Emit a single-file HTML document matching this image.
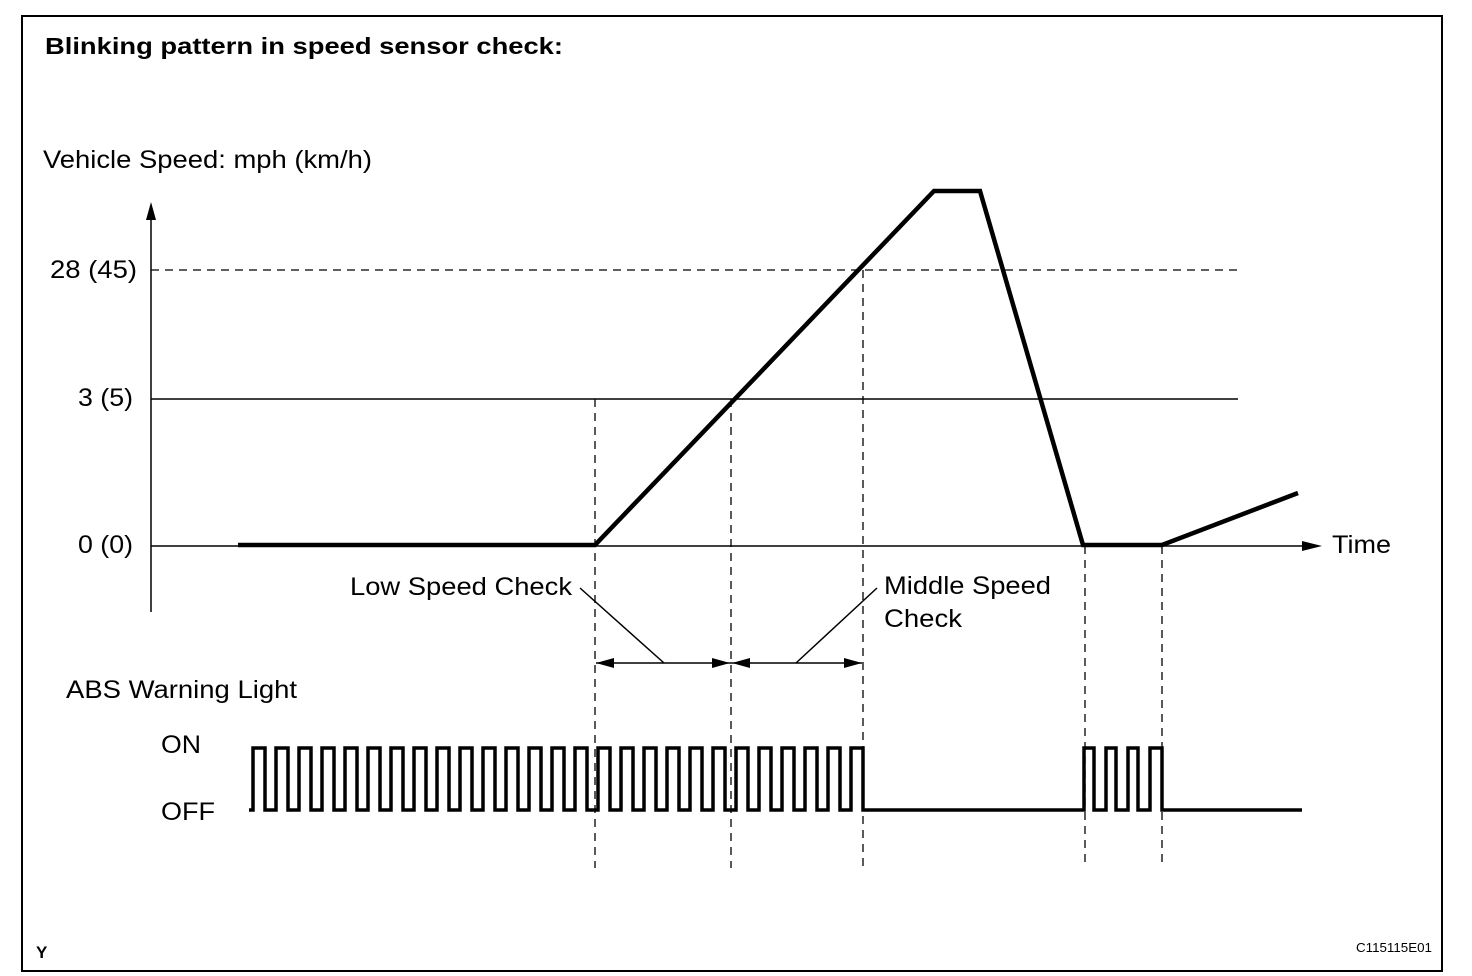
<!DOCTYPE html>
<html><head><meta charset="utf-8"><style>
html,body{margin:0;padding:0;background:#fff}
svg{display:block}
text{font-family:"Liberation Sans",Arial,sans-serif;fill:#000}
</style></head><body>
<svg id="s" width="1472" height="976" viewBox="0 0 1472 976" xmlns="http://www.w3.org/2000/svg">
<rect x="22" y="16" width="1420" height="955" fill="none" stroke="#000" stroke-width="2"/>
<text x="45" y="54" font-size="23" font-weight="bold" textLength="518" lengthAdjust="spacingAndGlyphs">Blinking pattern in speed sensor check:</text>
<text x="43" y="168" font-size="25" textLength="329" lengthAdjust="spacingAndGlyphs">Vehicle Speed: mph (km/h)</text>
<text x="50" y="278" font-size="25" textLength="87" lengthAdjust="spacingAndGlyphs">28 (45)</text>
<text x="78" y="406" font-size="25" textLength="55" lengthAdjust="spacingAndGlyphs">3 (5)</text>
<text x="78" y="553" font-size="25" textLength="55" lengthAdjust="spacingAndGlyphs">0 (0)</text>
<text x="1332" y="553" font-size="25" textLength="59" lengthAdjust="spacingAndGlyphs">Time</text>
<text x="350" y="595" font-size="25" textLength="222" lengthAdjust="spacingAndGlyphs">Low Speed Check</text>
<text x="884" y="594" font-size="25" textLength="167" lengthAdjust="spacingAndGlyphs">Middle Speed</text>
<text x="884" y="627" font-size="25" textLength="78" lengthAdjust="spacingAndGlyphs">Check</text>
<text x="66" y="698" font-size="25" textLength="231" lengthAdjust="spacingAndGlyphs">ABS Warning Light</text>
<text x="161" y="753" font-size="25" textLength="40" lengthAdjust="spacingAndGlyphs">ON</text>
<text x="161" y="820" font-size="25" textLength="54" lengthAdjust="spacingAndGlyphs">OFF</text>
<text x="36" y="958" font-size="17" font-weight="bold">Y</text>
<text x="1356" y="952" font-size="13" textLength="76" lengthAdjust="spacingAndGlyphs">C115115E01</text>
<line x1="151" y1="208" x2="151" y2="612" stroke="#000" stroke-width="1.5"/>
<polygon points="151,202 146,220 156,220" fill="#000"/>
<line x1="151" y1="546" x2="1305" y2="546" stroke="#000" stroke-width="1.5"/>
<polygon points="1322,546 1302,541 1302,551" fill="#000"/>
<line x1="151" y1="399" x2="1238" y2="399" stroke="#000" stroke-width="1.5"/>
<line x1="151" y1="270" x2="1238" y2="270" stroke="#000" stroke-width="1.3" stroke-dasharray="8,6"/>
<g stroke="#000" stroke-width="1.3" stroke-dasharray="8,6">
<line x1="595" y1="399" x2="595" y2="868"/>
<line x1="731" y1="399" x2="731" y2="868"/>
<line x1="863" y1="270" x2="863" y2="868"/>
<line x1="1085" y1="546" x2="1085" y2="868"/>
<line x1="1162" y1="546" x2="1162" y2="868"/>
</g>
<polyline points="238,545 595,545 934,191 980,191 1083,545 1162,545 1298,493" fill="none" stroke="#000" stroke-width="4.5" stroke-linejoin="miter"/>
<line x1="580" y1="588" x2="664" y2="663" stroke="#000" stroke-width="1.5"/>
<line x1="877" y1="588" x2="796" y2="663" stroke="#000" stroke-width="1.5"/>
<line x1="596" y1="663" x2="862" y2="663" stroke="#000" stroke-width="1.5"/>
<polygon points="596,663 614,658 614,668" fill="#000"/>
<polygon points="730,663 712,658 712,668" fill="#000"/>
<polygon points="732,663 750,658 750,668" fill="#000"/>
<polygon points="862,663 844,658 844,668" fill="#000"/>
<path id="w" fill="none" stroke="#000" stroke-width="3.5" stroke-linejoin="miter"/>
</svg>
<script>
var d="M249,810";var p=23.0,h=12;
for(var i=0;i<27;i++){var x=253+i*p;var xe=(i==26)?863:x+h;d+=" L"+x.toFixed(1)+",810 L"+x.toFixed(1)+",748 L"+xe.toFixed(1)+",748 L"+xe.toFixed(1)+",810";}
var r=[1084,1106,1128,1150];
for(var j=0;j<4;j++){var a=r[j],b=(j==3)?1162:a+10;d+=" L"+a+",810 L"+a+",748 L"+b+",748 L"+b+",810";}
d+=" L1302,810";
document.getElementById("w").setAttribute("d",d);
</script>
</body></html>
